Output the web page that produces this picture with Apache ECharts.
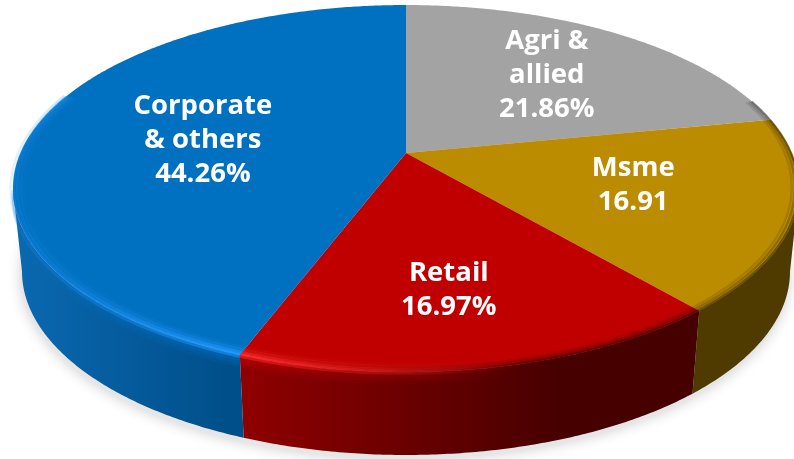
<!DOCTYPE html>
<html>
<head>
<meta charset="utf-8">
<style>
    html, body { margin: 0; padding: 0; background: #fff; }
    #chart { width: 794px; height: 459px; }
</style>
</head>
<body>
<div id="chart"></div>
<script src="https://cdn.jsdelivr.net/npm/echarts@6/dist/echarts.min.js"></script>
<script>
// values as printed on the slices, clockwise from 12 o'clock
const categories = ['Agri &\nallied', 'Msme', 'Retail', 'Corporate\n& others'];
const shares = [21.86, 16.91, 16.97, 44.26];
const valueLabels = ['21.86%', '16.91', '16.97%', '44.26%'];

// tilted disc: a circle seen in perspective, so the apex sits above the ellipse centre
const CX = 406, CY = 153, RX = 385.6, RY = 176.6, P = 0.1935;
const DEPTH = 83, LOWER_X = 0.977;
// where the rim turns away from the viewer (cos = -P)
const SIDE = Math.acos(-P) * 180 / Math.PI;

const looks = [
    { top: '#a3a3a3', wall: ['#5a5a5a', '#5a5a5a'], wallX: [406, 794], labelR: 0.63, nudge: [0, 1] },
    { top: '#bc8c00', wall: ['#4f3a00', '#4f3a00'], wallX: [690, 794], labelR: 0.6, nudge: [0, -4] },
    { top: '#c00000', wall: ['#930000', '#470000'], wallX: [226, 560], labelR: 0.67, nudge: [-8, 4],
      hi: '255,45,45', body: '192,0,0', hiA: [1, 0], hiX: [226, 520] },
    { top: '#0070c0', wall: ['#0a68b0', '#004f8a'], wallX: [20, 226], labelR: 0.54, nudge: [-2, 4],
      hi: '35,150,250', body: '0,112,192', hiA: [0.25, 1], hiX: [13, 226], hiEnd: 290, noDark: true }
];

function ring(deg, r) {
    const a = deg * Math.PI / 180;
    const x = Math.sin(a) * r, y = -Math.cos(a) * r;
    const w = 1 - P * y;
    return [CX + RX * x / w, CY + RY * y / w];
}
function lower(deg) {
    const p = ring(deg, 1);
    return [CX + (p[0] - CX) * LOWER_X, p[1] + DEPTH];
}
function arc(from, to, fn) {
    const pts = [];
    const n = Math.max(2, Math.ceil(Math.abs(to - from) * 2));
    for (let i = 0; i <= n; i++) {
        pts.push(fn(from + (to - from) * i / n));
    }
    return pts;
}
function bounds(i) {
    const total = shares.reduce((a, b) => a + b, 0);
    let sum = 0;
    for (let k = 0; k < i; k++) sum += shares[k];
    return [sum / total * 360, (sum + shares[i]) / total * 360];
}
function hGrad(x0, x1, c0, c1) {
    return new echarts.graphic.LinearGradient(x0, 0, x1, 0, [
        { offset: 0, color: c0 }, { offset: 1, color: c1 }
    ], true);
}
function fade(look, rgb) {
    return hGrad(look.hiX[0], look.hiX[1],
        'rgba(' + rgb + ',' + look.hiA[0] + ')',
        'rgba(' + rgb + ',' + look.hiA[1] + ')');
}

function renderShadow() {
    return {
        type: 'polygon',
        shape: { points: arc(0, 360, d => {
            const p = lower(d);
            return [p[0] - 1, p[1] + 4];
        }) },
        style: { fill: '#e6e6e6', shadowBlur: 14, shadowColor: 'rgba(0,0,0,0.2)' }
    };
}

function renderWall(params) {
    const [a, b] = bounds(params.dataIndex);
    const look = looks[params.dataIndex];
    // only the front part of the rim has a visible wall
    const from = Math.max(a, SIDE), to = Math.min(b, 360 - SIDE);
    if (to <= from) return null;
    const upper = arc(from, to, d => ring(d, 1));
    const under = arc(to, from, lower);
    const children = [{
        type: 'polygon',
        shape: { points: upper.concat(under) },
        style: { fill: hGrad(look.wallX[0], look.wallX[1], look.wall[0], look.wall[1]) }
    }];
    // the lit bevel runs a little way down the wall before it goes dark
    if (look.body) {
        [[2, 0.75], [5, 0.5], [8, 0.3], [11, 0.14]].forEach(s => {
            children.push({
                type: 'polyline',
                shape: { points: arc(from, to, d => {
                    const p = ring(d, 1);
                    return [p[0], p[1] + s[0]];
                }) },
                style: { fill: null, lineWidth: 3, opacity: s[1], stroke: fade(look, look.body) }
            });
        });
    }
    return { type: 'group', children: children };
}

function renderTop(params) {
    const i = params.dataIndex;
    const [a, b] = bounds(i);
    const look = looks[i];
    const children = [{
        type: 'polygon',
        shape: { points: [[CX, CY]].concat(arc(a, b, d => ring(d, 1))) },
        style: { fill: look.top }
    }];
    // soft dark edge where the top rolls over into the wall
    const darkFrom = Math.max(a, 72), darkTo = Math.min(b, 285);
    if (darkTo > darkFrom && !look.noDark) {
        [[0.982, 0.2], [0.99, 0.4], [0.998, 0.7]].forEach(s => {
            children.push({
                type: 'polyline',
                shape: { points: arc(darkFrom, darkTo, d => ring(d, s[0])) },
                style: {
                    fill: null, lineWidth: 2.5, opacity: s[1],
                    stroke: hGrad(look.wallX[0], look.wallX[1], look.wall[0], look.wall[1])
                }
            });
        });
    }
    // bright bevel stripe on the front-left part of the rim
    if (look.hi) {
        const end = Math.min(b, look.hiEnd || b);
        [[0.972, 0.12, 3], [0.981, 0.35, 3], [0.99, 0.7, 2.5], [0.998, 1, 2.5], [1.006, 0.5, 2.5]].forEach(s => {
            children.push({
                type: 'polyline',
                shape: { points: arc(a, end, d => ring(d, s[0])) },
                style: { fill: null, lineWidth: s[2], opacity: s[1], stroke: fade(look, look.hi) }
            });
        });
    }
    return { type: 'group', children: children };
}

function renderLabel(params) {
    const i = params.dataIndex;
    const [a, b] = bounds(i);
    const p = ring((a + b) / 2, looks[i].labelR);
    return {
        type: 'text',
        x: p[0] + looks[i].nudge[0],
        y: p[1] + looks[i].nudge[1],
        style: {
            text: categories[i] + '\n' + valueLabels[i],
            fill: '#fff',
            font: '700 27.5px "Open Sans"',
            lineHeight: 34,
            align: 'center',
            verticalAlign: 'middle'
        }
    };
}

const chart = echarts.init(document.getElementById('chart'), null, { renderer: 'canvas' });
const seriesData = shares.map((v, i) => ({ name: categories[i], value: v }));
chart.setOption({
    animation: false,
    series: [
        { type: 'custom', coordinateSystem: 'none', silent: true, z: 1, data: [0], renderItem: renderShadow },
        { type: 'custom', coordinateSystem: 'none', silent: true, z: 2, data: seriesData, renderItem: renderWall },
        { type: 'custom', coordinateSystem: 'none', silent: true, z: 3, data: seriesData, renderItem: renderTop },
        { type: 'custom', coordinateSystem: 'none', silent: true, z: 4, data: seriesData, renderItem: renderLabel }
    ]
});
</script>
</body>
</html>
